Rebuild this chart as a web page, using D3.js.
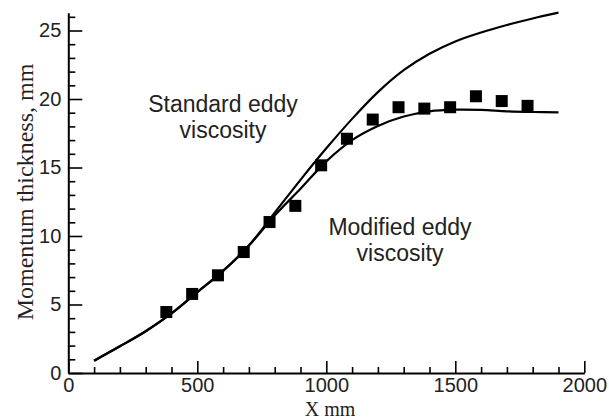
<!DOCTYPE html>
<html>
<head>
<meta charset="utf-8">
<script src="https://cdn.jsdelivr.net/npm/d3@7"></script>
<style>
  html, body { margin: 0; padding: 0; background: #fff; }
  svg { display: block; }
</style>
</head>
<body>
<svg id="chart" width="609" height="420"></svg>
<script>
// ---- data ----
const lineX = [100, 200, 300, 400, 500, 600, 700, 800, 900, 1000, 1100, 1200, 1300, 1400, 1500, 1600, 1700, 1800, 1900];
const standardEddy = [0.9, 1.95, 3.05, 4.35, 5.9, 7.45, 9.3, 11.7, 14.1, 16.4, 18.55, 20.5, 22.1, 23.3, 24.2, 24.85, 25.4, 25.88, 26.3];
const modifiedEddy = [0.9, 1.95, 3.05, 4.35, 5.9, 7.45, 9.3, 11.5, 13.45, 15.45, 17.0, 18.03, 18.72, 19.1, 19.22, 19.2, 19.1, 19.05, 19.03];
const expX = [380, 480, 580, 680, 780, 880, 980, 1080, 1180, 1280, 1380, 1480, 1580, 1680, 1780];
const expY = [4.45, 5.77, 7.13, 8.83, 11.02, 12.2, 15.16, 17.1, 18.5, 19.4, 19.3, 19.4, 20.2, 19.85, 19.5];
const xMajorTicks = [0, 500, 1000, 1500, 2000];
const xMinorTicks = [100, 200, 300, 400, 600, 700, 800, 900, 1100, 1200, 1300, 1400, 1600, 1700, 1800, 1900];
const yMajorTicks = [0, 5, 10, 15, 20, 25];
const yMinorTicks = [1, 2, 3, 4, 6, 7, 8, 9, 11, 12, 13, 14, 16, 17, 18, 19, 21, 22, 23, 24, 26];
const xTitle = "X mm";
const yTitle = "Momentum thickness, mm";
const labelStandard = ["Standard eddy", "viscosity"];
const labelModified = ["Modified eddy", "viscosity"];

// ---- scales ----
const svg = d3.select("#chart");
const x = d3.scaleLinear().domain([0, 2000]).range([68.3, 584.3]);
const y = d3.scaleLinear().domain([0, 26.3]).range([373, 12.7]);

const sans = "'Liberation Sans', Arial, sans-serif";
const serif = "'Liberation Serif', 'Times New Roman', serif";

// ---- axes ----
const gx = svg.append("g").attr("transform", `translate(0,${y(0)})`);
gx.call(d3.axisBottom(x).tickValues(xMinorTicks).tickSize(-6).tickSizeOuter(0).tickFormat(""));
gx.call(g => g.select(".domain").remove());
const gx2 = svg.append("g").attr("transform", `translate(0,${y(0)})`);
gx2.call(d3.axisBottom(x).tickValues(xMajorTicks).tickSize(-12).tickSizeOuter(0).tickPadding(5).tickFormat(d3.format("d")));

const gy = svg.append("g").attr("transform", `translate(${x(0)},0)`);
gy.call(d3.axisLeft(y).tickValues(yMinorTicks).tickSize(-7).tickSizeOuter(0).tickFormat(""));
gy.call(g => g.select(".domain").remove());
const gy2 = svg.append("g").attr("transform", `translate(${x(0)},0)`);
gy2.call(d3.axisLeft(y).tickValues(yMajorTicks).tickSize(-14).tickSizeOuter(0).tickPadding(7).tickFormat(d3.format("d")));

svg.selectAll(".domain").attr("stroke", "#000").attr("stroke-width", 2);
svg.selectAll(".tick line").attr("stroke", "#000").attr("stroke-width", 1.6);
svg.selectAll(".tick text").attr("font-family", sans).attr("font-size", 20).attr("fill", "#222");

// ---- titles ----
svg.append("text")
  .attr("x", 330).attr("y", 416)
  .attr("text-anchor", "middle")
  .attr("font-family", serif).attr("font-size", 20).attr("fill", "#222")
  .text(xTitle);
svg.append("text")
  .attr("transform", "translate(33,192) rotate(-90)")
  .attr("text-anchor", "middle")
  .attr("font-family", serif).attr("font-size", 24).attr("fill", "#222")
  .text(yTitle);

// ---- curves ----
const line = d3.line().x(d => x(d[0])).y(d => y(d[1])).curve(d3.curveCatmullRom.alpha(0.5));
[standardEddy, modifiedEddy].forEach(series => {
  svg.append("path")
    .datum(lineX.map((v, i) => [v, series[i]]))
    .attr("d", line)
    .attr("fill", "none")
    .attr("stroke", "#000")
    .attr("stroke-width", 2.2);
});

// ---- experimental squares ----
const sq = 12;
svg.append("g").selectAll("rect")
  .data(expX.map((v, i) => [v, expY[i]]))
  .join("rect")
  .attr("x", d => x(d[0]) - sq / 2)
  .attr("y", d => y(d[1]) - sq / 2)
  .attr("width", sq).attr("height", sq)
  .attr("fill", "#000");

// ---- annotations ----
function annot(lines, cx, baseY) {
  const t = svg.append("text")
    .attr("text-anchor", "middle")
    .attr("font-family", sans).attr("font-size", 23).attr("fill", "#222");
  lines.forEach((s, i) => {
    t.append("tspan").attr("x", cx).attr("y", baseY + i * 26).text(s);
  });
}
annot(labelStandard, 223, 112);
annot(labelModified, 400, 235);
</script>
</body>
</html>
